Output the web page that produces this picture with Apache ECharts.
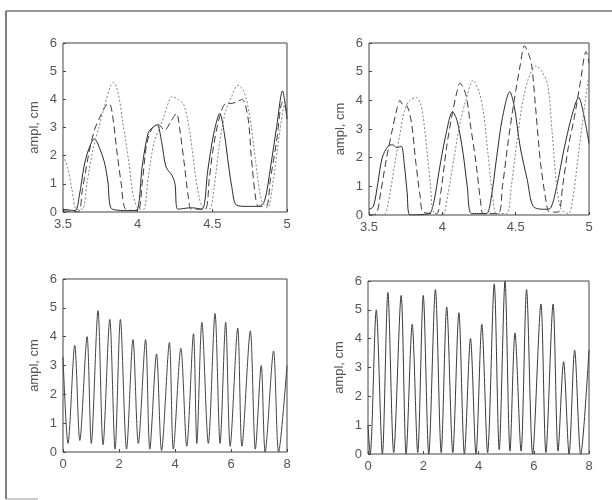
<!DOCTYPE html>
<html>
<head>
<meta charset="utf-8">
<script src="https://cdn.jsdelivr.net/npm/echarts@6/dist/echarts.min.js"></script>
<style>
  html, body { margin: 0; padding: 0; background: #fff; }
  #chart { width: 612px; height: 500px; }
</style>
</head>
<body>
<div id="chart"></div>
<script>
// top left: three traces, 3.5 .. 5 s
const tlSolid = [[3.50,0.10],[3.58,0.05],[3.61,0.6],[3.64,1.6],[3.67,2.2],[3.71,2.6],[3.75,2.2],[3.78,1.7],[3.80,1.1],[3.83,0.1],[3.96,0.05],[4.00,0.1],[4.03,1.6],[4.07,2.8],[4.10,3.0],[4.13,3.1],[4.16,2.5],[4.19,1.6],[4.23,1.3],[4.25,1.0],[4.27,0.1],[4.36,0.15],[4.43,0.1],[4.47,1.5],[4.51,2.8],[4.55,3.5],[4.58,2.8],[4.61,1.6],[4.63,0.9],[4.66,0.25],[4.73,0.2],[4.81,0.2],[4.85,0.4],[4.89,1.6],[4.93,3.0],[4.97,4.3],[5.00,3.3]];
const tlDashed = [[3.50,0.05],[3.60,0.0],[3.63,0.8],[3.67,2.0],[3.71,2.9],[3.75,3.4],[3.79,3.8],[3.81,3.85],[3.83,3.5],[3.86,2.2],[3.89,1.0],[3.92,0.1],[4.00,0.05],[4.03,1.0],[4.06,2.4],[4.10,3.0],[4.14,3.1],[4.18,2.9],[4.22,3.2],[4.26,3.5],[4.28,3.0],[4.31,1.8],[4.34,0.5],[4.36,0.1],[4.45,0.1],[4.48,1.2],[4.51,2.4],[4.55,3.4],[4.59,3.85],[4.62,3.85],[4.66,3.9],[4.70,4.0],[4.74,3.3],[4.76,2.0],[4.79,0.5],[4.81,0.2],[4.86,0.2],[4.89,1.2],[4.93,2.5],[4.97,3.9],[5.00,3.6]];
const tlDotted = [[3.50,2.0],[3.53,1.6],[3.56,0.8],[3.59,0.1],[3.63,0.1],[3.66,1.0],[3.70,2.2],[3.74,3.0],[3.78,3.8],[3.82,4.5],[3.84,4.6],[3.87,4.2],[3.90,3.2],[3.94,1.8],[3.97,0.6],[4.01,0.1],[4.04,0.1],[4.07,1.2],[4.11,2.5],[4.14,2.9],[4.17,3.3],[4.20,3.8],[4.23,4.1],[4.27,4.0],[4.31,3.8],[4.35,2.8],[4.39,1.2],[4.43,0.2],[4.48,0.1],[4.51,0.8],[4.55,2.5],[4.59,3.6],[4.63,4.1],[4.67,4.5],[4.71,4.3],[4.75,3.4],[4.79,1.8],[4.83,0.4],[4.87,0.15],[4.91,1.2],[4.95,2.8],[4.98,3.8],[5.00,4.0]];

// top right
const trSolid = [[3.50,0.2],[3.53,0.3],[3.56,1.1],[3.59,2.0],[3.63,2.4],[3.66,2.45],[3.69,2.35],[3.72,2.4],[3.74,1.8],[3.76,0.8],[3.78,0.0],[3.91,0.05],[3.94,0.4],[3.98,1.6],[4.02,2.7],[4.07,3.6],[4.10,3.3],[4.14,2.2],[4.17,1.0],[4.20,0.05],[4.30,0.05],[4.33,0.5],[4.37,2.0],[4.41,3.4],[4.46,4.3],[4.49,3.8],[4.53,2.4],[4.58,1.2],[4.62,0.3],[4.70,0.2],[4.74,0.25],[4.78,1.0],[4.83,2.3],[4.88,3.4],[4.93,4.1],[4.96,3.6],[5.00,2.5]];
const trDashed = [[3.50,0.0],[3.55,0.05],[3.58,0.8],[3.62,2.0],[3.66,3.0],[3.69,3.7],[3.71,4.0],[3.73,3.85],[3.76,3.8],[3.79,3.2],[3.82,1.8],[3.85,0.6],[3.87,0.1],[3.96,0.05],[3.99,0.8],[4.03,2.4],[4.07,3.6],[4.10,4.3],[4.12,4.6],[4.16,4.2],[4.19,3.2],[4.23,1.8],[4.26,0.5],[4.28,0.05],[4.38,0.05],[4.41,1.0],[4.45,2.6],[4.49,4.0],[4.53,5.2],[4.56,5.9],[4.59,5.6],[4.61,5.2],[4.64,3.5],[4.67,1.8],[4.71,0.4],[4.73,0.1],[4.79,0.1],[4.82,1.0],[4.86,2.4],[4.90,3.4],[4.94,4.6],[4.98,5.7],[5.00,5.3]];
const trDotted = [[3.50,0.0],[3.60,0.0],[3.63,0.4],[3.67,1.6],[3.71,2.8],[3.74,3.6],[3.77,3.95],[3.82,4.1],[3.85,3.9],[3.87,3.4],[3.90,2.0],[3.92,1.0],[3.94,0.1],[4.00,0.0],[4.04,0.8],[4.08,2.0],[4.12,3.2],[4.16,4.0],[4.21,4.7],[4.25,4.3],[4.28,3.6],[4.31,2.2],[4.34,0.8],[4.37,0.05],[4.44,0.05],[4.47,1.0],[4.51,2.6],[4.55,4.0],[4.59,4.8],[4.64,5.2],[4.68,5.0],[4.72,4.5],[4.75,2.8],[4.78,1.0],[4.81,0.2],[4.86,0.05],[4.89,0.6],[4.93,2.2],[4.97,3.8],[5.00,4.9]];

// bottom: peaks and troughs, 0 .. 8 s
const blTrace = [[0,3.3],[0.18,0.3],[0.42,3.7],[0.6,0.4],[0.86,4.0],[1.01,0.3],[1.25,4.9],[1.43,0.25],[1.67,4.6],[1.86,0.1],[2.05,4.6],[2.27,0.1],[2.5,3.9],[2.69,0.3],[2.95,3.9],[3.1,0.1],[3.34,3.4],[3.52,0.05],[3.8,3.8],[3.94,0.1],[4.21,3.6],[4.42,0.2],[4.66,4.1],[4.78,0.3],[4.96,4.5],[5.19,0.3],[5.43,4.8],[5.61,0.3],[5.81,4.5],[5.97,0.2],[6.24,4.3],[6.39,0.2],[6.69,4.2],[6.87,0.1],[7.08,3.0],[7.22,0.0],[7.52,3.5],[7.7,0.0],[8.0,3.0]];
const brTrace = [[0,1.0],[0.08,0.0],[0.3,5.0],[0.52,0.0],[0.72,5.6],[0.93,0.05],[1.2,5.5],[1.38,0.0],[1.6,4.5],[1.8,0.05],[2.0,5.5],[2.2,0.0],[2.44,5.7],[2.65,0.05],[2.85,5.1],[3.07,0.05],[3.29,4.9],[3.49,0.0],[3.71,4.0],[3.91,0.0],[4.12,4.5],[4.33,0.05],[4.57,5.9],[4.75,0.15],[4.96,6.0],[5.14,0.1],[5.32,4.2],[5.54,0.1],[5.74,5.7],[5.96,0.0],[6.26,5.2],[6.44,0.05],[6.7,5.2],[6.88,0.1],[7.08,3.2],[7.28,0.0],[7.48,3.6],[7.7,0.0],[8.0,3.6]];

const yTicks = [0, 1, 2, 3, 4, 5, 6];
const yName = "ampl, cm";

const grids = [
  { left: 63, top: 43, width: 224, height: 169 },
  { left: 369, top: 43, width: 220, height: 172 },
  { left: 63, top: 279, width: 224, height: 173 },
  { left: 368, top: 281, width: 221, height: 173 }
];

const labelStyle = { color: "#555", fontSize: 13, fontFamily: "Liberation Sans, Arial" };

function xAx(i, min, max, interval) {
  return {
    type: "value", gridIndex: i, min: min, max: max, interval: interval,
    axisLine: { show: false },
    axisTick: { inside: true, length: 3, lineStyle: { color: "#444" } },
    splitLine: { show: false },
    axisLabel: Object.assign({ margin: 6 }, labelStyle)
  };
}
function yAx(i) {
  return {
    type: "value", gridIndex: i, min: yTicks[0], max: yTicks[yTicks.length - 1], interval: 1,
    name: yName, nameLocation: "middle", nameGap: 22,
    nameTextStyle: labelStyle,
    axisLine: { show: false },
    axisTick: { inside: true, length: 3, lineStyle: { color: "#444" } },
    splitLine: { show: false },
    axisLabel: Object.assign({ margin: 6 }, labelStyle)
  };
}

const solid = { color: "#2a2a2a", width: 1 };
const dashed = { color: "#3a3a3a", width: 1, type: [7, 4] };
const dotted = { color: "#808080", width: 1, type: [2, 2] };

function line(i, data, style) {
  return {
    type: "line", xAxisIndex: i, yAxisIndex: i, data: data,
    showSymbol: false, smooth: 0.3, clip: true, lineStyle: style
  };
}

const chart = echarts.init(document.getElementById("chart"), null, { renderer: "canvas" });
chart.setOption({
  backgroundColor: "#fff",
  animation: false,
  grid: grids.map(g => Object.assign({ show: true, borderColor: "#444", borderWidth: 1, backgroundColor: "transparent" }, g)),
  xAxis: [xAx(0, 3.5, 5, 0.5), xAx(1, 3.5, 5, 0.5), xAx(2, 0, 8, 2), xAx(3, 0, 8, 2)],
  yAxis: [yAx(0), yAx(1), yAx(2), yAx(3)],
  series: [
    line(0, tlSolid, solid), line(0, tlDashed, dashed), line(0, tlDotted, dotted),
    line(1, trSolid, solid), line(1, trDashed, dashed), line(1, trDotted, dotted),
    line(2, blTrace, { color: "#444", width: 1 }),
    line(3, brTrace, { color: "#3a3a3a", width: 1 })
  ],
  graphic: [
    { type: "line", shape: { x1: 6, y1: 11, x2: 612, y2: 11 }, style: { stroke: "#777", lineWidth: 1.5 } },
    { type: "line", shape: { x1: 6, y1: 11, x2: 6, y2: 499 }, style: { stroke: "#555", lineWidth: 1.5 } },
    { type: "line", shape: { x1: 6, y1: 499, x2: 38, y2: 499 }, style: { stroke: "#999", lineWidth: 1 } }
  ]
});
</script>
</body>
</html>
